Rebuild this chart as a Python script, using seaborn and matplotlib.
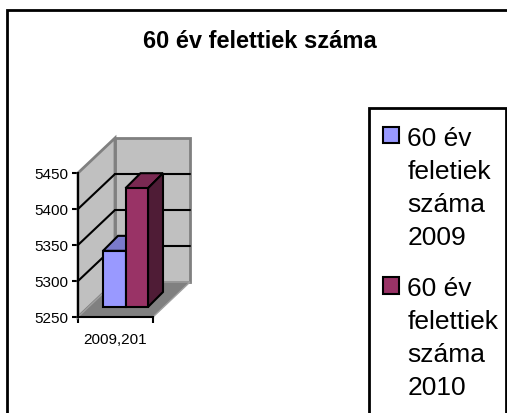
import pandas as pd
import seaborn as sns
import matplotlib.pyplot as plt
from matplotlib.patches import Polygon, Rectangle
from matplotlib.transforms import Affine2D, IdentityTransform

title = "60 év felettiek száma"
category = ["2009,201"]
series = ["60 év\nfeletiek\nszáma\n2009", "60 év\nfelettiek\nszáma\n2010"]
values = [5328, 5415]
yticks = [5250, 5300, 5350, 5400, 5450]
colors = ["#9999FF", "#993366"]
top_colors = ["#7A7ACC", "#7A2952"]
side_colors = ["#5C5C99", "#4F1C36"]

W, H = 507, 414
sns.set_theme(style="white")
plt.rcParams['font.family'] = ['Liberation Sans', 'DejaVu Sans']

fig = plt.figure(figsize=(W / 100, H / 100), dpi=100)
ax = fig.add_axes([78 / W, (H - 318) / H, 75 / W, 144 / H])
ax.patch.set_visible(False)

df = pd.DataFrame({'cat': category * 2, 'series': series, 'value': values})
sns.barplot(data=df, x='cat', y='value', hue='series', hue_order=series, palette=colors,
            width=0.6, edgecolor='black', linewidth=1.5, saturation=1, ax=ax, zorder=5)
handles, labels = ax.get_legend_handles_labels()
ax.get_legend().remove()

ax.set_xlim(-0.5, 0.5)
ax.set_ylim(yticks[0], yticks[-1])
ax.set_xlabel('')
ax.set_ylabel('')


def proj(x, y, dx=0, dy=0):
    # data point on the front plane, pushed back by a pixel depth
    px, py = ax.transData.transform((x, y))
    return (px + dx, py + dy)


def poly(points, **kw):
    ax.add_patch(Polygon(points, closed=True, transform=IdentityTransform(), clip_on=False, **kw))


def line(p0, p1, **kw):
    ax.plot([p0[0], p1[0]], [p0[1], p1[1]], transform=IdentityTransform(), clip_on=False, **kw)


# walls and floor of the fake 3D box
dx, dy = 37, 35
x0, x1 = ax.get_xlim()
y0, y1 = ax.get_ylim()
wall = dict(facecolor='#C0C0C0', edgecolor='#808080', linewidth=2, zorder=1)
poly([proj(x0, y0, dx, dy), proj(x1, y0, dx, dy), proj(x1, y1, dx, dy), proj(x0, y1, dx, dy)], **wall)
poly([proj(x0, y0), proj(x0, y0, dx, dy), proj(x0, y1, dx, dy), proj(x0, y1)], **wall)
poly([proj(x0, y0), proj(x1, y0), proj(x1, y0, dx, dy), proj(x0, y0, dx, dy)],
     facecolor='#808080', edgecolor='#A0A0A0', linewidth=1, zorder=1.5)
for t in yticks[1:-1]:
    line(proj(x0, t), proj(x0, t, dx, dy), color='black', lw=1.5, zorder=2)
    line(proj(x0, t, dx, dy), proj(x1, t, dx, dy), color='black', lw=1.5, zorder=2)

# bars stand off the front plane, with top and side faces behind
shift = Affine2D().translate(10, 10)
depth = 15
for i, bar in enumerate(ax.patches[:2]):
    top = bar.get_height()
    left, right = bar.get_x(), bar.get_x() + bar.get_width()
    bar.set_y(y0)
    bar.set_height(top - y0)
    bar.set_transform(ax.transData + shift)
    bar.set_clip_on(False)
    bar.set_zorder(5 + i)
    edge = dict(edgecolor='black', linewidth=1.5, zorder=4.5 + i)
    a, b = proj(left, top, 10, 10), proj(right, top, 10, 10)
    c = proj(right, y0, 10, 10)
    poly([a, b, (b[0] + depth, b[1] + depth), (a[0] + depth, a[1] + depth)], facecolor=top_colors[i], **edge)
    poly([b, c, (c[0] + depth, c[1] + depth), (b[0] + depth, b[1] + depth)], facecolor=side_colors[i], **edge)

# axes
sns.despine(ax=ax, top=True, right=True)
for s in ['left', 'bottom']:
    ax.spines[s].set_color('black')
    ax.spines[s].set_linewidth(1.5)
    ax.spines[s].set_zorder(3)
ax.set_yticks(yticks)
ax.tick_params(axis='y', left=True, length=4, width=1.5, color='black', pad=3, labelsize=11, labelcolor='black')
ax.set_xticks([x0, x1], ['', ''])
ax.set_xticks([0], category, minor=True)
ax.tick_params(axis='x', which='major', bottom=True, length=4, width=1.5, color='black')
ax.tick_params(axis='x', which='minor', bottom=False, length=0, pad=11, labelsize=11, labelcolor='black')

fig.text(259.5 / W, (H - 42) / H, title, ha='center', va='center', fontsize=17, fontweight='bold', color='black')

# outer border and legend box run past the picture edges
frame = dict(fill=False, edgecolor='black', linewidth=2, transform=IdentityTransform(), clip_on=False)
fig.add_artist(Rectangle((7, -20), W + 20, H + 20 - 11, **frame))
fig.add_artist(Rectangle((368.5, -20), 137.5, H + 20 - 109, **frame))

leg = fig.legend(handles, labels, loc='upper left', bbox_to_anchor=(383 / W, (H - 127) / H),
                 borderaxespad=0, borderpad=0, frameon=False, fontsize=19, handlelength=0.59,
                 handleheight=0.59, handletextpad=0.33, labelspacing=1.04)
for text in leg.get_texts():
    text.set_linespacing(1.47)
    text.set_color('black')
for h in leg.legend_handles:
    h.set_y(h.get_y() + 37.8)
    h.set_edgecolor('black')
    h.set_linewidth(1.5)

fig.savefig('out.png', dpi=100)
